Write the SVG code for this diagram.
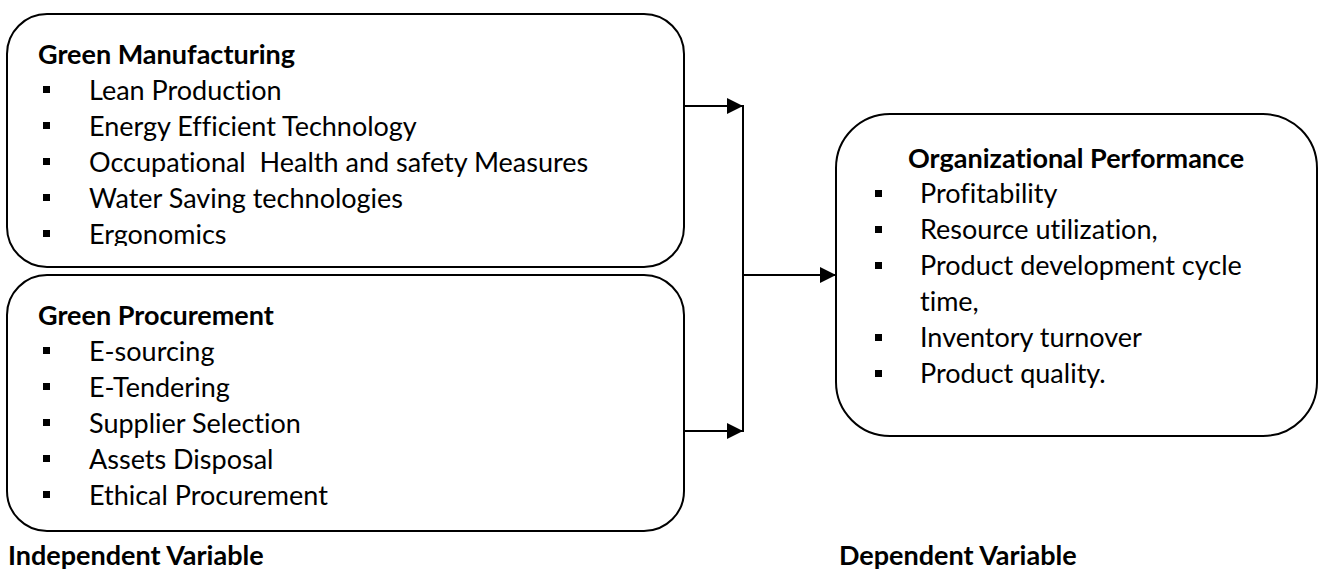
<svg xmlns="http://www.w3.org/2000/svg" width="1320" height="573" viewBox="0 0 1320 573">
<style>
.box{fill:#fff;stroke:#000;stroke-width:2}
.t{font-family:Lato,"Open Sans","Liberation Sans",sans-serif;font-size:27px;fill:#000;font-variant-ligatures:none}
.b{font-weight:bold}
.bul{fill:#000}
.con{stroke:#000;stroke-width:2;fill:none}
</style>
<defs>
<marker id="ah" markerWidth="16" markerHeight="16" viewBox="0 0 16 16" refX="16" refY="8" orient="auto" markerUnits="userSpaceOnUse">
<path d="M0,0 L16,8 L0,16 Z" fill="#000"/>
</marker>
<clipPath id="c1"><rect x="0" y="0" width="700" height="246"/></clipPath>
</defs>
<rect width="1320" height="573" fill="#fff"/>
<g id="green-manufacturing">
<rect class="box" x="7" y="14" width="677" height="253" rx="40" ry="40"/>
<text class="t b" x="38" y="64">Green Manufacturing</text>
<rect class="bul" x="43" y="86" width="7" height="7"/>
<text class="t" x="89" y="100">Lean Production</text>
<rect class="bul" x="43" y="122" width="7" height="7"/>
<text class="t" x="89" y="136">Energy Efficient Technology</text>
<rect class="bul" x="43" y="158" width="7" height="7"/>
<text class="t" x="89" y="172" xml:space="preserve">Occupational  Health and safety Measures</text>
<rect class="bul" x="43" y="194" width="7" height="7"/>
<text class="t" x="89" y="208">Water Saving technologies</text>
<rect class="bul" x="43" y="230" width="7" height="7"/>
<text class="t" x="89" y="244" clip-path="url(#c1)">Ergonomics</text>
</g>
<g id="green-procurement">
<rect class="box" x="7" y="275" width="677" height="256" rx="40" ry="40"/>
<text class="t b" x="38" y="325">Green Procurement</text>
<rect class="bul" x="43" y="347" width="7" height="7"/>
<text class="t" x="89" y="361">E-sourcing</text>
<rect class="bul" x="43" y="383" width="7" height="7"/>
<text class="t" x="89" y="397">E-Tendering</text>
<rect class="bul" x="43" y="419" width="7" height="7"/>
<text class="t" x="89" y="433">Supplier Selection</text>
<rect class="bul" x="43" y="455" width="7" height="7"/>
<text class="t" x="89" y="469">Assets Disposal</text>
<rect class="bul" x="43" y="491" width="7" height="7"/>
<text class="t" x="89" y="505">Ethical Procurement</text>
</g>
<g id="organizational-performance">
<rect class="box" x="836" y="114" width="481" height="322" rx="54" ry="54"/>
<text class="t b" x="908" y="168">Organizational Performance</text>
<rect class="bul" x="875" y="190" width="7" height="7"/>
<text class="t" x="920" y="203">Profitability</text>
<rect class="bul" x="875" y="226" width="7" height="7"/>
<text class="t" x="920" y="239">Resource utilization,</text>
<rect class="bul" x="875" y="262" width="7" height="7"/>
<text class="t" x="920" y="275">Product development cycle</text>
<text class="t" x="920" y="311">time,</text>
<rect class="bul" x="875" y="334" width="7" height="7"/>
<text class="t" x="920" y="347">Inventory turnover</text>
<rect class="bul" x="875" y="370" width="7" height="7"/>
<text class="t" x="920" y="383">Product quality.</text>
</g>
<g id="labels">
<text class="t b" x="8" y="565">Independent Variable</text>
<text class="t b" x="839" y="565">Dependent Variable</text>
</g>
<g id="connectors">
<line class="con" x1="684" y1="106" x2="743" y2="106" marker-end="url(#ah)"/>
<line class="con" x1="684" y1="431" x2="743" y2="431" marker-end="url(#ah)"/>
<line class="con" x1="743" y1="105" x2="743" y2="432"/>
<line class="con" x1="743" y1="275" x2="836" y2="275" marker-end="url(#ah)"/>
</g>
</svg>
